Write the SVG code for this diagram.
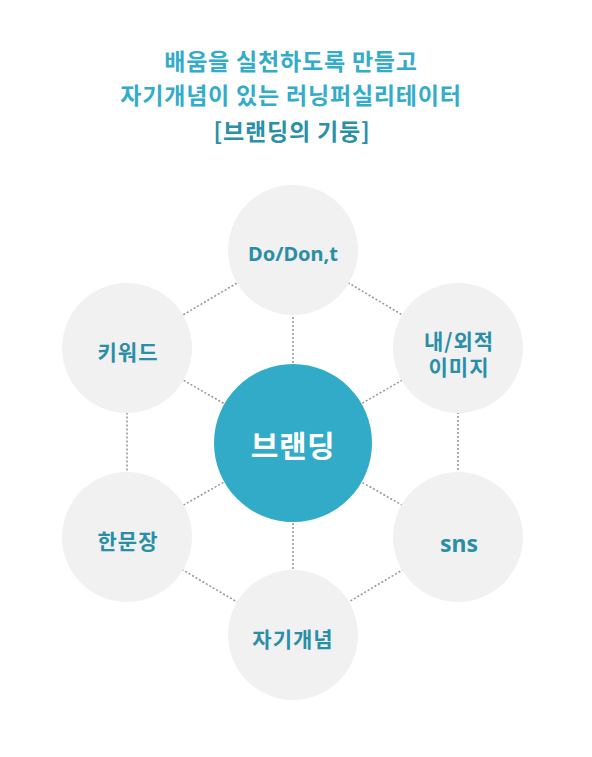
<svg xmlns="http://www.w3.org/2000/svg" width="592" height="757" viewBox="0 0 592 757">
<style>
.title{font-family:"Noto Sans CJK KR","Noto Sans",sans-serif;font-weight:700;font-size:23px;letter-spacing:0.8px;text-anchor:middle;fill:#33acca}
.title2{fill:#2b8fa7}
.con{stroke:#999;stroke-width:1.6;stroke-dasharray:2 2;fill:none}
.node{fill:#f1f1f1}
.lbl{font-family:"Noto Sans CJK KR","Noto Sans",sans-serif;font-weight:700;font-size:21px;letter-spacing:1px;text-anchor:middle;fill:#2a8fa6}
.lat{font-family:"Noto Sans","Noto Sans CJK KR",sans-serif;font-weight:700;text-anchor:middle;fill:#2a8fa6}
</style>
<rect width="592" height="757" fill="#ffffff"/>
<g id="title">
<text class="title" x="291" y="70">배움을 실천하도록 만들고</text>
<text class="title" x="291" y="104">자기개념이 있는 러닝퍼실리테이터</text>
<text class="title title2" x="292" y="140">[브랜딩의 기둥]</text>
</g>
<g id="connectors">
<polygon class="con" points="293,250 458,348 458,537 293,635 127,537 127,348"/>
<line class="con" x1="293" y1="443" x2="293" y2="250"/>
<line class="con" x1="293" y1="443" x2="293" y2="635"/>
<line class="con" x1="293" y1="443" x2="458" y2="348"/>
<line class="con" x1="293" y1="443" x2="458" y2="537"/>
<line class="con" x1="293" y1="443" x2="127" y2="348"/>
<line class="con" x1="293" y1="443" x2="127" y2="537"/>
</g>
<g id="node-dodont">
<circle class="node" cx="293" cy="250" r="65"/>
<text class="lat" x="293" y="261" font-size="20">Do/Don,t</text>
</g>
<g id="node-image">
<circle class="node" cx="458" cy="348" r="65"/>
<text class="lbl"><tspan x="459" y="349">내/외적</tspan><tspan x="459" y="375">이미지</tspan></text>
</g>
<g id="node-sns">
<circle class="node" cx="458" cy="537" r="65"/>
<text class="lat" x="459" y="552" font-size="23">sns</text>
</g>
<g id="node-selfconcept">
<circle class="node" cx="293" cy="635" r="65"/>
<text class="lbl" x="293" y="647">자기개념</text>
</g>
<g id="node-sentence">
<circle class="node" cx="127" cy="537" r="65"/>
<text class="lbl" x="128" y="549">한문장</text>
</g>
<g id="node-keyword">
<circle class="node" cx="127" cy="348" r="65"/>
<text class="lbl" x="128" y="360">키워드</text>
</g>
<g id="node-branding">
<circle cx="293" cy="443" r="79" fill="#32abc8"/>
<text x="293" y="457" font-family="Noto Sans CJK KR,Noto Sans,sans-serif" font-weight="700" font-size="30" letter-spacing="0.5" text-anchor="middle" fill="#ffffff">브랜딩</text>
</g>
</svg>
